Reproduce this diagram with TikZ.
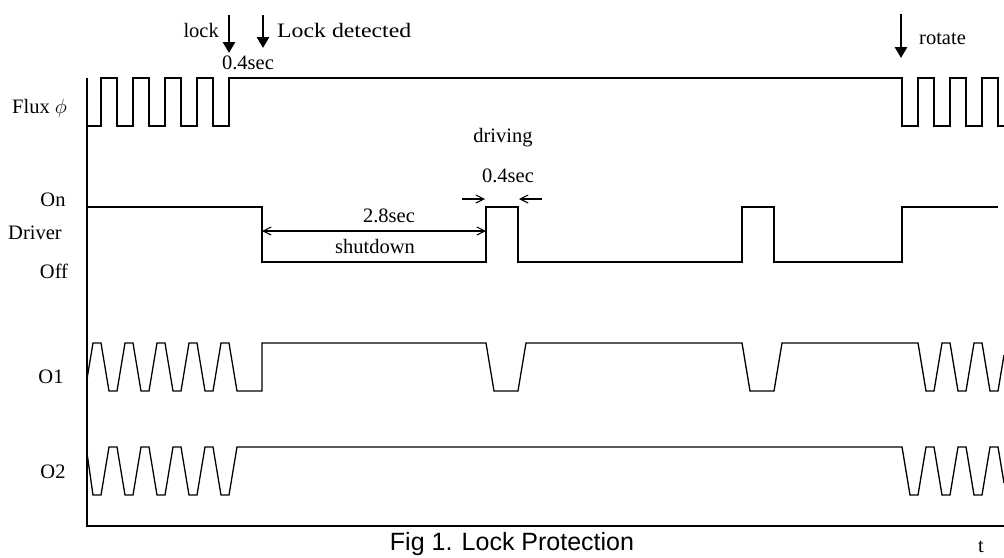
\documentclass[tikz,border=0pt]{standalone}
\usepackage{fontspec}
\setmainfont{Liberation Serif}
\newfontfamily\captionfont{Liberation Sans}
\usetikzlibrary{arrows.meta}

\begin{document}
\begin{tikzpicture}[
		% Unidades en pixeles de la figura
		x=1pt, y=-1pt,
		% Estilos de trazos
		senal/.style={line width=1.3pt, line join=miter},
		eje/.style={line width=2.4pt, line join=miter},
		% Estilos de textos y flechas
		etiqueta/.style={font=\fontsize{20.5}{24}\selectfont, inner sep=0pt},
		marca/.style={line width=2.8pt, -{Triangle[length=11pt, width=12pt]}},
		cota/.style={line width=1.1pt, -{Straight Barb[length=8pt, width=8pt]}},
		cota doble/.style={line width=1.1pt, {Straight Barb[length=8pt, width=8pt]}-{Straight Barb[length=8pt, width=8pt]}}
		]
		\useasboundingbox (0,0) rectangle (1004,557);
		
		% --- EJES ---
		\draw[eje] (87,78) -- (87,526) -- (1004,526);
		
		% --- FLUJO ---
		\draw[senal] (87,126) foreach \k in {0,...,3} { -- (101+32*\k,126) -- (101+32*\k,78) -- (117+32*\k,78) -- (117+32*\k,126) }
			-- (229,126) -- (229,78) -- (902,78)
			foreach \k in {0,1,2} { -- (902+32*\k,78) -- (902+32*\k,126) -- (918+32*\k,126) -- (918+32*\k,78) }
			-- (998,78) -- (998,126) -- (1004,126);
		
		% --- DRIVER ---
		\draw[senal] (87,207) -- (262,207) -- (262,262) -- (486,262) -- (486,207) -- (518,207) -- (518,262)
			-- (742,262) -- (742,207) -- (774,207) -- (774,262) -- (902,262) -- (902,207) -- (998,207);
		
		% --- SALIDA O1 ---
		\draw[senal] (87,379) -- (93,343) foreach \k in {0,...,3} { -- (101+32*\k,343) -- (109+32*\k,391) -- (117+32*\k,391) -- (125+32*\k,343) }
			-- (229,343) -- (237,391) -- (262,391) -- (262,343)
			-- (486,343) -- (494,391) -- (518,391) -- (526,343)
			-- (742,343) -- (750,391) -- (774,391) -- (782,343)
			foreach \k in {0,1} { -- (918+32*\k,343) -- (926+32*\k,391) -- (934+32*\k,391) -- (942+32*\k,343) }
			-- (982,343) -- (990,391) -- (998,391) -- (1004,355);
		
		% --- SALIDA O2 ---
		\draw[senal] (87,453) -- (93,495) foreach \k in {0,...,3} { -- (101+32*\k,495) -- (109+32*\k,447) -- (117+32*\k,447) -- (125+32*\k,495) }
			-- (229,495) -- (237,447) -- (902,447)
			foreach \k in {0,1,2} { -- (902+32*\k,447) -- (910+32*\k,495) -- (918+32*\k,495) -- (926+32*\k,447) }
			-- (998,447) -- (1004,483);
		
		% --- NOMBRES DE LAS SENALES ---
		\node[etiqueta, anchor=base west] (flujo) at (12,113) {Flux $\phi$};
		\node[etiqueta, anchor=base] (on) at (53,206) {On};
		\node[etiqueta, anchor=base] (driver) at (35,239) {Driver};
		\node[etiqueta, anchor=base] (off) at (54,278) {Off};
		\node[etiqueta, anchor=base] (o1) at (51,383) {O1};
		\node[etiqueta, anchor=base] (o2) at (53,478) {O2};
		
		% --- EVENTOS ---
		\coordinate (lock_a) at (229,15);
		\coordinate (lock_b) at (229,53);
		\coordinate (det_a) at (263,15);
		\coordinate (det_b) at (263,48);
		\coordinate (rot_a) at (901,14);
		\coordinate (rot_b) at (901,58);
		\draw[marca] (lock_a) -- (lock_b);
		\draw[marca] (det_a) -- (det_b);
		\draw[marca] (rot_a) -- (rot_b);
		\node[etiqueta, anchor=base east] (lock) at (219,37) {lock};
		\node[etiqueta, anchor=base west] (detectado) at (277,37) {\scalebox{1.16}[1]{Lock detected}};
		\node[etiqueta, anchor=base] (retardo) at (248,69) {0.4sec};
		\node[etiqueta, anchor=base west] (rotate) at (919,44) {rotate};
		
		% --- COTAS ---
		\coordinate (apagado_a) at (262,231);
		\coordinate (apagado_b) at (486,231);
		\draw[cota doble] (apagado_a) -- (apagado_b);
		\node[etiqueta, anchor=base] (t_apagado) at (389,222) {2.8sec};
		\node[etiqueta, anchor=base] (shutdown) at (375,253) {shutdown};
		\coordinate (pulso_a) at (462,199);
		\coordinate (pulso_b) at (542,199);
		\draw[cota] (pulso_a) -- ++(23,0);
		\draw[cota] (pulso_b) -- ++(-23,0);
		\node[etiqueta, anchor=base] (t_pulso) at (508,182) {0.4sec};
		\node[etiqueta, anchor=base] (driving) at (503,142) {driving};
		
		% --- PIE ---
		\node[etiqueta, anchor=base] (tiempo) at (981,552) {t};
		\node[font=\captionfont\fontsize{25}{30}\selectfont, inner sep=0pt, anchor=base] (titulo) at (512,550) {Fig 1. Lock Protection};
		
	\end{tikzpicture}
\end{document}
